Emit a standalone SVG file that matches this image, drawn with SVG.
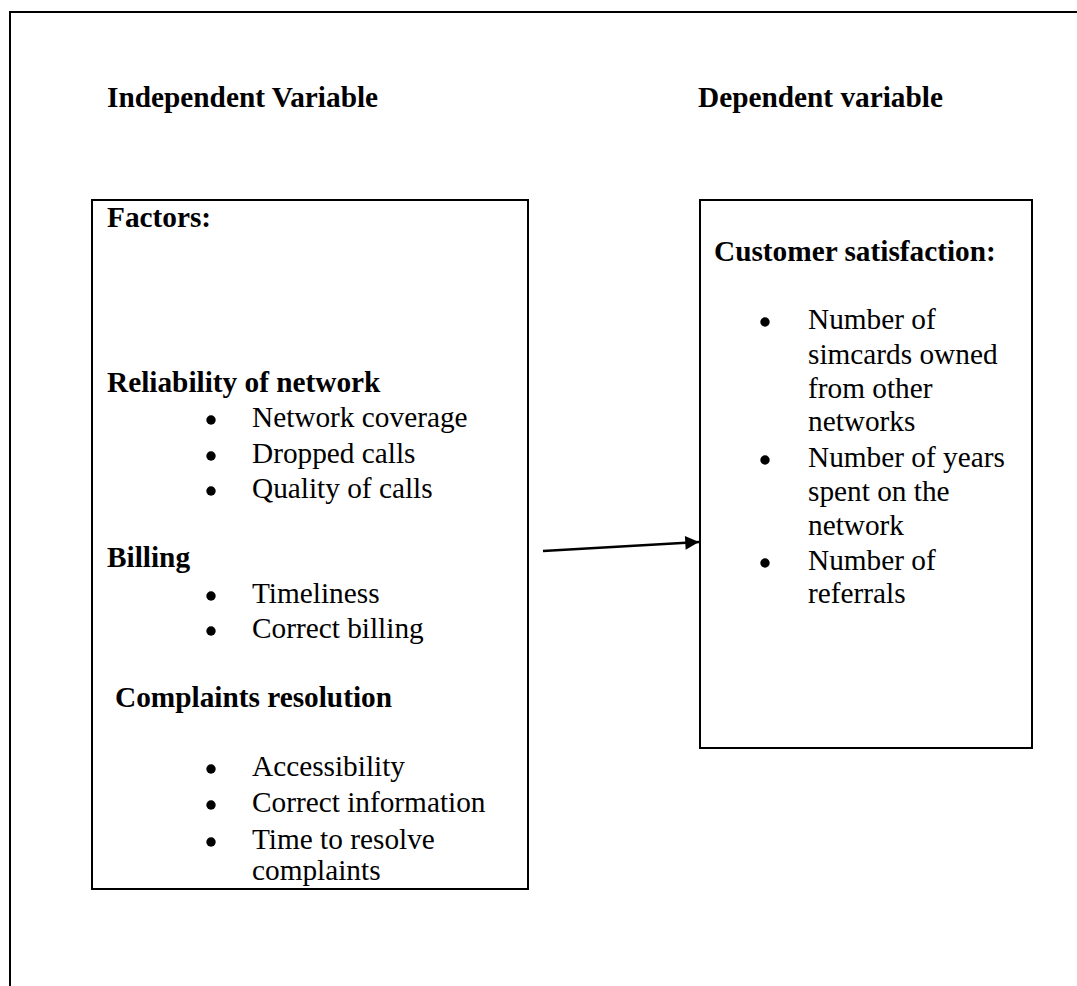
<svg xmlns="http://www.w3.org/2000/svg" width="1077" height="986" viewBox="0 0 1077 986">
<defs>
<style>
.frame{fill:none;stroke:#000;stroke-width:2}
.box{fill:#fff;stroke:#000;stroke-width:2}
.h{font-family:"Liberation Serif","Times New Roman",serif;font-weight:bold;font-size:29.3px;fill:#000}
.t{font-family:"Liberation Serif","Times New Roman",serif;font-size:29.3px;fill:#000}
.b{fill:#000}
.conn{stroke:#000;stroke-width:2.5;fill:none}
</style>
<marker id="ah" viewBox="0 0 10 10" refX="10" refY="5" markerWidth="6.5" markerHeight="5.5" markerUnits="strokeWidth" orient="auto">
<path d="M0,0 L10,5 L0,10 z" fill="#000"/>
</marker>
</defs>
<rect width="1077" height="986" fill="#fff"/>
<path class="frame" d="M10,986 V12 H1077"/>
<g id="labels">
<text class="h" x="107" y="107">Independent Variable</text>
<text class="h" x="698" y="107">Dependent variable</text>
</g>
<g id="factors">
<rect class="box" x="92" y="200" width="436" height="689"/>
<text class="h" x="107" y="227">Factors:</text>
<text class="h" x="107" y="392">Reliability of network</text>
<circle class="b" cx="211" cy="420" r="4.7"/><text class="t" x="252" y="427">Network coverage</text>
<circle class="b" cx="211" cy="456" r="4.7"/><text class="t" x="252" y="463">Dropped calls</text>
<circle class="b" cx="211" cy="491" r="4.7"/><text class="t" x="252" y="498">Quality of calls</text>
<text class="h" x="107" y="567">Billing</text>
<circle class="b" cx="211" cy="596" r="4.7"/><text class="t" x="252" y="603">Timeliness</text>
<circle class="b" cx="211" cy="631" r="4.7"/><text class="t" x="252" y="638">Correct billing</text>
<text class="h" x="115" y="707">Complaints resolution</text>
<circle class="b" cx="211" cy="769" r="4.7"/><text class="t" x="252" y="776">Accessibility</text>
<circle class="b" cx="211" cy="805" r="4.7"/><text class="t" x="252" y="812">Correct information</text>
<circle class="b" cx="211" cy="842" r="4.7"/><text class="t" x="252" y="849">Time to resolve</text>
<text class="t" x="252" y="880">complaints</text>
</g>
<g id="satisfaction">
<rect class="box" x="700" y="200" width="332" height="548"/>
<text class="h" x="714" y="261">Customer satisfaction:</text>
<circle class="b" cx="765" cy="322" r="4.7"/><text class="t" x="808" y="329">Number of</text>
<text class="t" x="808" y="364">simcards owned</text>
<text class="t" x="808" y="398">from other</text>
<text class="t" x="808" y="431">networks</text>
<circle class="b" cx="765" cy="460" r="4.7"/><text class="t" x="808" y="467">Number of years</text>
<text class="t" x="808" y="501">spent on the</text>
<text class="t" x="808" y="535">network</text>
<circle class="b" cx="765" cy="563" r="4.7"/><text class="t" x="808" y="570">Number of</text>
<text class="t" x="808" y="603">referrals</text>
</g>
<g id="connectors">
<line class="conn" x1="543" y1="551" x2="699" y2="542" marker-end="url(#ah)"/>
</g>
</svg>
